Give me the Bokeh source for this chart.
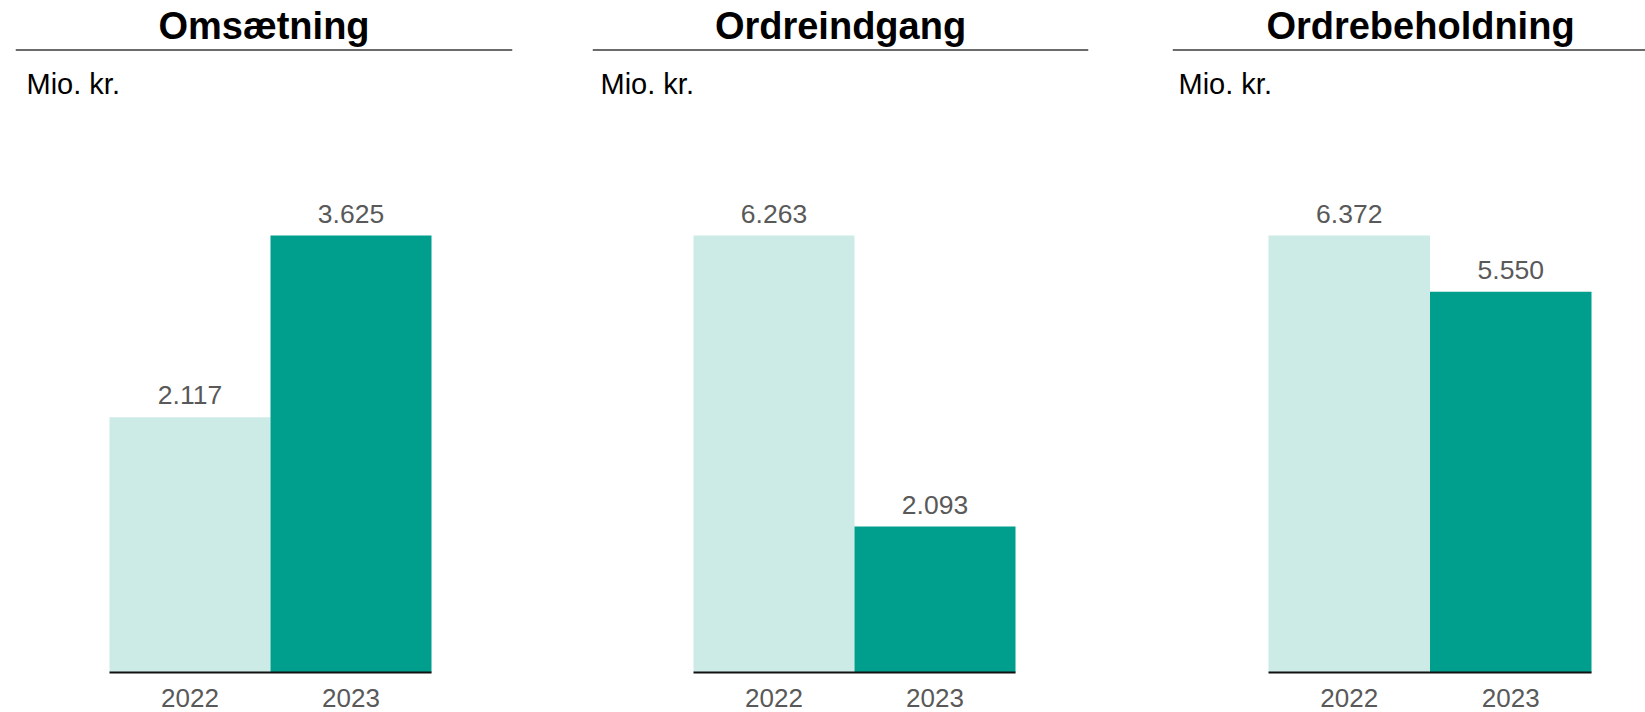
from bokeh.plotting import figure
from bokeh.layouts import row
from bokeh.models import Label, Span, ColumnDataSource, Range1d
from bokeh.core.properties import value
from bokeh.embed import file_html
from bokeh.resources import INLINE

# ---------------- data ----------------
years = ["2022", "2023"]
titles = ["Omsætning", "Ordreindgang", "Ordrebeholdning"]
unit_label = "Mio. kr."
omsaetning = [2117, 3625]
ordreindgang = [6263, 2093]
ordrebeholdning = [6372, 5550]
series = [omsaetning, ordreindgang, ordrebeholdning]

# ---------------- style / layout ----------------
bar_colors = ["#CCEBE6", "#009E8C"]
FONT = "Liberation Sans"
LABEL_GREY = "#595959"
K = 0.39             # empirical baseline correction (em)

FIG_TOP = 0
FIG_H = 712
BASE_Y = 672         # page y of value 0
TOP_Y = 235          # page y of tallest bar
TITLE_BASE_Y = 40.5
RULE_Y = 49.5
UNIT_BASE_Y = 95
YEAR_BASE_Y = 708
VAL_GAP = 11.5

TITLE_FS = 38
UNIT_FS = 29
VAL_FS = 26.5
YEAR_FS = 26

panels = [
    dict(fig_x0=0, fig_x1=552, line_x0=15, line_x1=512, bar_x0=109, bar_w=161, unit_x=26),
    dict(fig_x0=552, fig_x1=1130, line_x0=592, line_x1=1088, bar_x0=693, bar_w=161, unit_x=600),
    dict(fig_x0=1130, fig_x1=1645, line_x0=1172, line_x1=1668, bar_x0=1268, bar_w=161.5, unit_x=1178),
]


def fmt(v):
    return f"{v:,}".replace(",", ".")


figs = []
for title, vals, pan in zip(titles, series, panels):
    frame_l = pan["line_x0"]
    frame_r = min(pan["line_x1"], pan["fig_x1"])
    c0 = pan["bar_x0"] + pan["bar_w"] / 2.0

    def xd(px, c0=c0, w=pan["bar_w"]):
        return (px - c0) / w

    s = (BASE_Y - TOP_Y) / max(vals)

    def yd(py, s=s):
        return (BASE_Y - py) / s

    p = figure(
        width=pan["fig_x1"] - pan["fig_x0"],
        height=FIG_H,
        x_range=Range1d(xd(frame_l), xd(frame_r)),
        y_range=Range1d(yd(FIG_TOP + FIG_H), yd(FIG_TOP)),
        output_backend="svg",
        toolbar_location=None,
        x_axis_location=None,
        y_axis_location=None,
        min_border_left=frame_l - pan["fig_x0"],
        min_border_right=pan["fig_x1"] - frame_r,
        min_border_top=0,
        min_border_bottom=0,
        outline_line_color=None,
        background_fill_color="white",
        border_fill_color="white",
    )
    p.grid.visible = False

    xs = list(range(len(years)))
    src = ColumnDataSource(dict(
        x=xs,
        top=vals,
        zero=[0] * len(xs),
        year=years,
        color=bar_colors,
        label=[fmt(v) for v in vals],
    ))

    p.vbar(x="x", top="top", bottom=0, width=1.0, fill_color="color",
           line_color=None, source=src)

    # baseline under bars
    p.segment(x0=[xs[0] - 0.5], y0=[0], x1=[xs[-1] + 0.5], y1=[0],
              line_color="#111111", line_width=2)

    # value labels
    p.text(x="x", y="top", text="label", source=src, text_align="center",
           text_baseline="alphabetic", y_offset=-(VAL_GAP + K * VAL_FS),
           text_font=value(FONT), text_font_size=f"{VAL_FS}px",
           text_color=LABEL_GREY)

    # category (year) labels
    p.text(x="x", y="zero", text="year", source=src, text_align="center",
           text_baseline="alphabetic",
           y_offset=(YEAR_BASE_Y - BASE_Y) - K * YEAR_FS,
           text_font=value(FONT), text_font_size=f"{YEAR_FS}px",
           text_color=LABEL_GREY)

    # title, rule and unit label
    title_cx = (pan["line_x0"] + pan["line_x1"]) / 2.0
    p.add_layout(Label(x=xd(title_cx), y=yd(TITLE_BASE_Y - K * TITLE_FS), text=title,
                       text_align="center", text_baseline="alphabetic",
                       text_font=FONT, text_font_size=f"{TITLE_FS}px",
                       text_font_style="bold", text_color="black"))
    p.add_layout(Span(location=yd(RULE_Y), dimension="width",
                      line_color="#3a3a3a", line_width=1.5))
    p.add_layout(Label(x=xd(pan["unit_x"]), y=yd(UNIT_BASE_Y - K * UNIT_FS), text=unit_label,
                       text_align="left", text_baseline="alphabetic",
                       text_font=FONT, text_font_size=f"{UNIT_FS}px",
                       text_color="black"))
    figs.append(p)

layout = row(*figs)
open("out.html", "w").write(file_html(layout, INLINE))
